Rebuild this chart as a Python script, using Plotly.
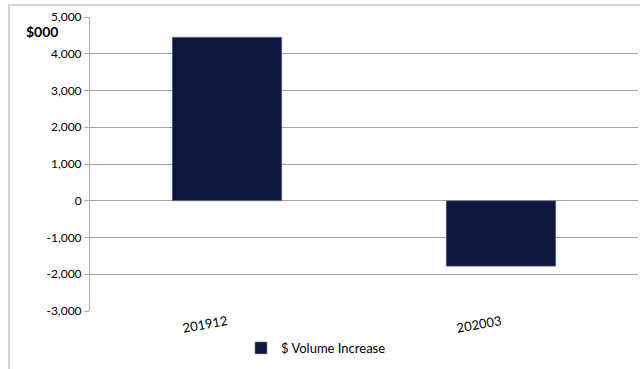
import plotly.graph_objects as go

categories = ["201912", "202003"]
values = [4450, -1780]
series_name = "$ Volume Increase"
y_ticks = [-3000, -2000, -1000, 0, 1000, 2000, 3000, 4000, 5000]
y_tick_labels = ["-3,000", "-2,000", "-1,000", "0", "1,000", "2,000", "3,000", "4,000", "5,000"]

W, H = 640, 369
L, R, T, B = 90, 2, 17, 58
pw, ph = W - L - R, H - T - B

fig = go.Figure()
fig.add_trace(go.Bar(
    x=categories, y=values, name=series_name,
    marker=dict(color="#0e1640", line=dict(color="#7f86a0", width=0.6)),
    width=0.4, showlegend=True,
))

font_family = "Lato, 'Open Sans', Arial, sans-serif"

fig.update_layout(
    width=W, height=H,
    margin=dict(l=L, r=R, t=T, b=B, autoexpand=False),
    paper_bgcolor="white", plot_bgcolor="white",
    font=dict(family=font_family, size=12, color="#000000"),
    showlegend=True,
    legend=dict(orientation="h", x=(241 - L) / pw, xanchor="left",
                y=(H - B - 348) / ph, yanchor="middle",
                font=dict(size=13), itemwidth=30, bgcolor="rgba(0,0,0,0)"),
    xaxis=dict(type="category", showgrid=False, showline=False, ticks="",
               tickangle=-10, tickfont=dict(size=13), range=[-0.5, 1.5]),
    yaxis=dict(range=[-3000, 5000], tickvals=y_ticks, ticktext=y_tick_labels,
               showgrid=True, gridcolor="#a3a3a3", gridwidth=1,
               zeroline=True, zerolinecolor="#a3a3a3", zerolinewidth=1,
               showline=True, linecolor="#b0b0b0", linewidth=1,
               ticks="outside", ticklen=5, tickcolor="#b0b0b0",
               tickfont=dict(size=12)),
    shapes=[
        dict(type="rect", xref="paper", yref="paper",
             x0=(9 - L) / pw, x1=(W + 5 - L) / pw,
             y0=(H - B - (H + 5)) / ph, y1=(H - B - 5) / ph,
             line=dict(color="#c8c8c8", width=1.5), fillcolor="rgba(0,0,0,0)", layer="below"),
    ],
    annotations=[
        dict(text="<b>$000</b>", xref="paper", yref="paper",
             x=(42 - L) / pw, y=(H - B - 31) / ph, xanchor="center", yanchor="middle",
             showarrow=False, font=dict(size=14, family=font_family)),
    ],
)

fig.write_html("out.html",
               config={"displayModeBar": False},
               post_script="document.body.style.margin='0';document.body.style.overflow='hidden';")
